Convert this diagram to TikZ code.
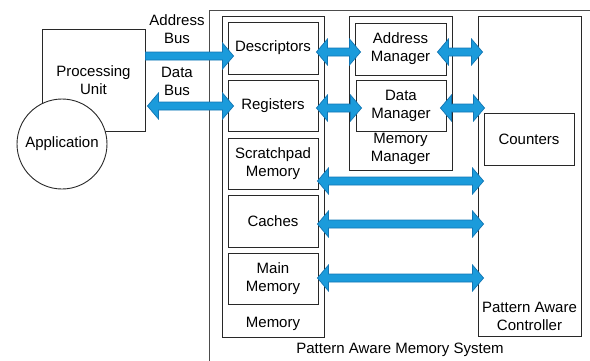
\documentclass[tikz,border=0pt]{standalone}
\usepackage{fontspec}
\setmainfont{Liberation Sans}
\usetikzlibrary{calc}
\definecolor{busfill}{RGB}{27,155,219}
\definecolor{busline}{RGB}{18,118,180}
\definecolor{boxline}{RGB}{40,40,40}
\newcommand\dblbus[2]{%
  \path[fill=busfill,draw=busline,line width=0.7pt,line join=miter]
    let \p1=#1, \p2=#2 in
    (\x1,\y1) -- ++(11pt,13pt) -- ++(0,-9pt) -- ({\x2-11pt},{\y1+4pt}) -- ++(0,9pt)
    -- (\x2,\y1) -- ++(-11pt,-13pt) -- ++(0,9pt) -- ({\x1+11pt},{\y1-4pt}) -- ++(0,-9pt) -- cycle;}
\newcommand\sglbus[2]{%
  \path[fill=busfill,draw=busline,line width=0.7pt,line join=miter]
    let \p1=#1, \p2=#2 in
    (\x1,{\y1+4pt}) -- ({\x2-11pt},{\y1+4pt}) -- ++(0,9pt)
    -- (\x2,\y1) -- ++(-11pt,-13pt) -- ++(0,9pt) -- (\x1,{\y1-4pt}) -- cycle;}
\begin{document}
\begin{tikzpicture}[x=1pt,y=-1pt,
  font=\fontsize{15}{18}\selectfont,
  box/.style={draw=boxline,line width=0.9pt,inner sep=0pt,align=center,fill=white},
  lbl/.style={inner sep=0pt,align=center}]
\useasboundingbox (0,0) rectangle (590,360);
\begin{scope}
\clip (0,0) rectangle (590,360);
\node[draw=gray!60!black,line width=1.3pt,minimum width=400pt,minimum height=370pt,anchor=north west,inner sep=0pt] (sys) at (209,10) {};
\end{scope}
\node[lbl] (syslbl) at (400,350) {Pattern Aware Memory System};
% processing unit and application
\node[box,minimum width=103pt,minimum height=102pt] (pu) at (93.5,80) {Processing\\Unit};
\node[box,circle,minimum size=90pt] (app) at (62,144) {Application};
% memory
\node[box,minimum width=102pt,minimum height=321pt] (mem) at (273,176.5) {};
\node[lbl] (memlbl) at (273,324) {Memory};
\node[box,minimum width=90pt,minimum height=52pt] (desc) at (273,48) {Descriptors};
\node[box,minimum width=90pt,minimum height=51pt] (reg) at (273,105.5) {Registers};
\node[box,minimum width=90pt,minimum height=51pt] (scr) at (273,163.5) {Scratchpad\\Memory};
\node[box,minimum width=90pt,minimum height=52pt] (cache) at (273,221) {Caches};
\node[box,minimum width=90pt,minimum height=51pt] (main) at (273,278.5) {Main\\Memory};
% memory manager
\node[box,minimum width=103pt,minimum height=154pt] (mm) at (400.5,93) {};
\node[lbl] (mmlbl) at (400.5,148.5) {Memory\\Manager};
\node[box,minimum width=91pt,minimum height=52pt] (am) at (400.5,49) {Address\\Manager};
\node[box,minimum width=90pt,minimum height=51pt] (dm) at (401,105.5) {Data\\Manager};
% controller
\node[box,minimum width=103pt,minimum height=320pt] (ctrl) at (529.5,176) {};
\node[lbl] (ctrllbl) at (529.5,316) {Pattern Aware\\Controller};
\node[box,minimum width=90pt,minimum height=52pt] (cnt) at (529,139) {Counters};
% bus labels
\node[lbl] (ablbl) at (177,29.5) {Address\\Bus};
\node[lbl] (dblbl) at (177,81) {Data\\Bus};
% rows
\coordinate (rA) at (0,56);
\coordinate (rD) at (0,106);
\coordinate (r1) at (0,52);
\coordinate (r2) at (0,108);
\coordinate (r3) at (0,181);
\coordinate (r4) at (0,224);
\coordinate (r5) at (0,278);
% buses
\sglbus{(pu.east |- rA)}{([xshift=6pt]desc.west |- rA)}
\dblbus{([xshift=2pt]pu.east |- rD)}{([xshift=6pt]reg.west |- rD)}
\dblbus{([xshift=-2pt]desc.east |- r1)}{([xshift=6pt]am.west |- r1)}
\dblbus{([xshift=-2pt]reg.east |- r2)}{([xshift=6pt]dm.west |- r2)}
\dblbus{([xshift=-9pt]am.east |- r1)}{([xshift=5pt]ctrl.west |- r1)}
\dblbus{([xshift=-6pt]dm.east |- r2)}{([xshift=7pt]ctrl.west |- r2)}
\dblbus{([xshift=-1pt]scr.east |- r3)}{([xshift=6pt]ctrl.west |- r3)}
\dblbus{([xshift=-1pt]cache.east |- r4)}{([xshift=6pt]ctrl.west |- r4)}
\dblbus{([xshift=-1pt]main.east |- r5)}{([xshift=6pt]ctrl.west |- r5)}
\end{tikzpicture}
\end{document}
